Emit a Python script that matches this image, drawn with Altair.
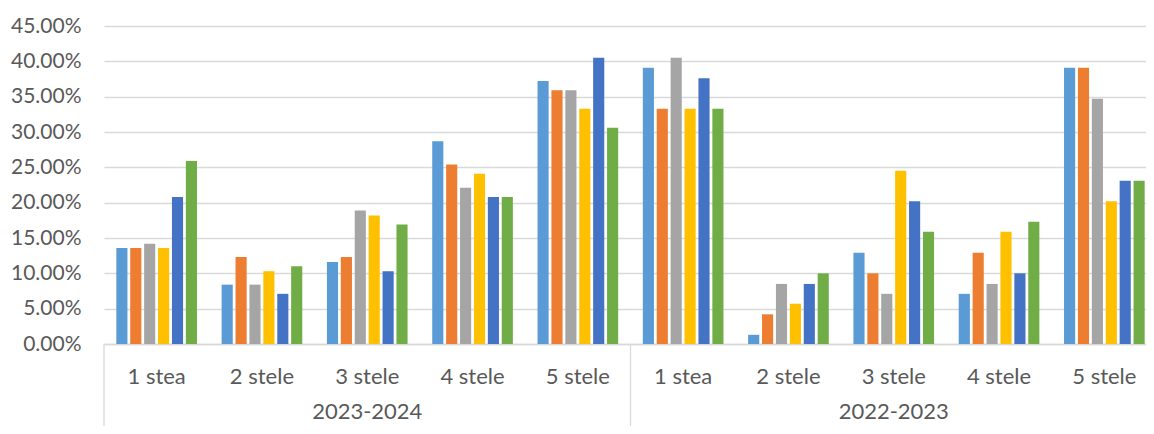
import altair as alt
import pandas as pd

years = ["2023-2024", "2022-2023"]
categories = ["1 stea", "2 stele", "3 stele", "4 stele", "5 stele"]
series_names = ["Seria 1", "Seria 2", "Seria 3", "Seria 4", "Seria 5", "Seria 6"]
series_colors = ["#5B9BD5", "#ED7D31", "#A5A5A5", "#FFC000", "#4472C4", "#70AD47"]

# values in %, order: 2023-2024 (1..5 stele), 2022-2023 (1..5 stele)
s1 = [13.6, 8.4, 11.6, 28.7, 37.2, 39.1, 1.3, 12.9, 7.1, 39.1]
s2 = [13.6, 12.3, 12.3, 25.4, 35.9, 33.3, 4.2, 10.0, 12.9, 39.1]
s3 = [14.2, 8.4, 18.9, 22.1, 35.9, 40.5, 8.5, 7.1, 8.5, 34.7]
s4 = [13.6, 10.3, 18.2, 24.1, 33.3, 33.3, 5.7, 24.5, 15.9, 20.2]
s5 = [20.8, 7.1, 10.3, 20.8, 40.5, 37.6, 8.5, 20.2, 10.0, 23.1]
s6 = [25.9, 11.0, 16.9, 20.8, 30.6, 33.3, 10.0, 15.9, 17.3, 23.1]
y_ticks = [0, 0.05, 0.10, 0.15, 0.20, 0.25, 0.30, 0.35, 0.40, 0.45]

keys = [f"{y}|{c}" for y in years for c in categories]
all_series = [s1, s2, s3, s4, s5, s6]

rows = []
for name, vals in zip(series_names, all_series):
    for k, v in zip(keys, vals):
        rows.append({"key": k, "series": name, "value": v / 100})
df = pd.DataFrame(rows)

sep_df = pd.DataFrame({"key": [f"{y}|{categories[0]}" for y in years]})
year_df = pd.DataFrame({"key": [f"{y}|{categories[2]}" for y in years], "label": years})

FONT = "Lato"
TXT = "#595959"
GRID = "#D9D9D9"

x_scale = alt.Scale(domain=keys, range=[0, 1053], paddingInner=0, paddingOuter=0)

bars = alt.Chart(df).mark_bar().encode(
    x=alt.X("key:N", sort=keys, scale=x_scale,
            axis=alt.Axis(title=None, labelAngle=0, ticks=False, tickSize=0,
                          labelExpr="split(datum.label, '|')[1]",
                          labelBaseline="alphabetic", labelPadding=39,
                          labelFont=FONT, labelFontSize=22, labelColor=TXT,
                          domainColor=GRID, domainWidth=1.3, grid=False)),
    xOffset=alt.XOffset("series:N", sort=series_names,
                        scale=alt.Scale(paddingInner=0.2, paddingOuter=0.886)),
    y=alt.Y("value:Q", scale=alt.Scale(domain=[0, 0.45], nice=False),
            axis=alt.Axis(title=None, values=y_ticks, format=".2%",
                          ticks=False, tickSize=0, domain=False,
                          labelPadding=23, labelFont=FONT, labelFontSize=21,
                          labelColor=TXT, gridColor=GRID, gridWidth=1.3)),
    color=alt.Color("series:N", sort=series_names,
                    scale=alt.Scale(domain=series_names, range=series_colors),
                    legend=None),
)

seps = alt.Chart(sep_df).mark_rule(color=GRID, strokeWidth=1.3).encode(
    x=alt.X("key:N", sort=keys, scale=x_scale, bandPosition=0),
    y=alt.value(318),
    y2=alt.value(400),
)

year_text = alt.Chart(year_df).mark_text(
    font=FONT, fontSize=22, color=TXT, baseline="alphabetic", align="center"
).encode(
    x=alt.X("key:N", sort=keys, scale=x_scale),
    y=alt.value(393),
    text="label:N",
)

chart = alt.layer(bars, seps, year_text).properties(
    width=1042, height=318,
    autosize=alt.AutoSizeParams(type="none"),
    padding={"left": 96, "top": 18, "right": 0, "bottom": 82},
).configure_view(stroke=None)

chart.save("out.html", embed_options={"renderer": "svg", "actions": False})
